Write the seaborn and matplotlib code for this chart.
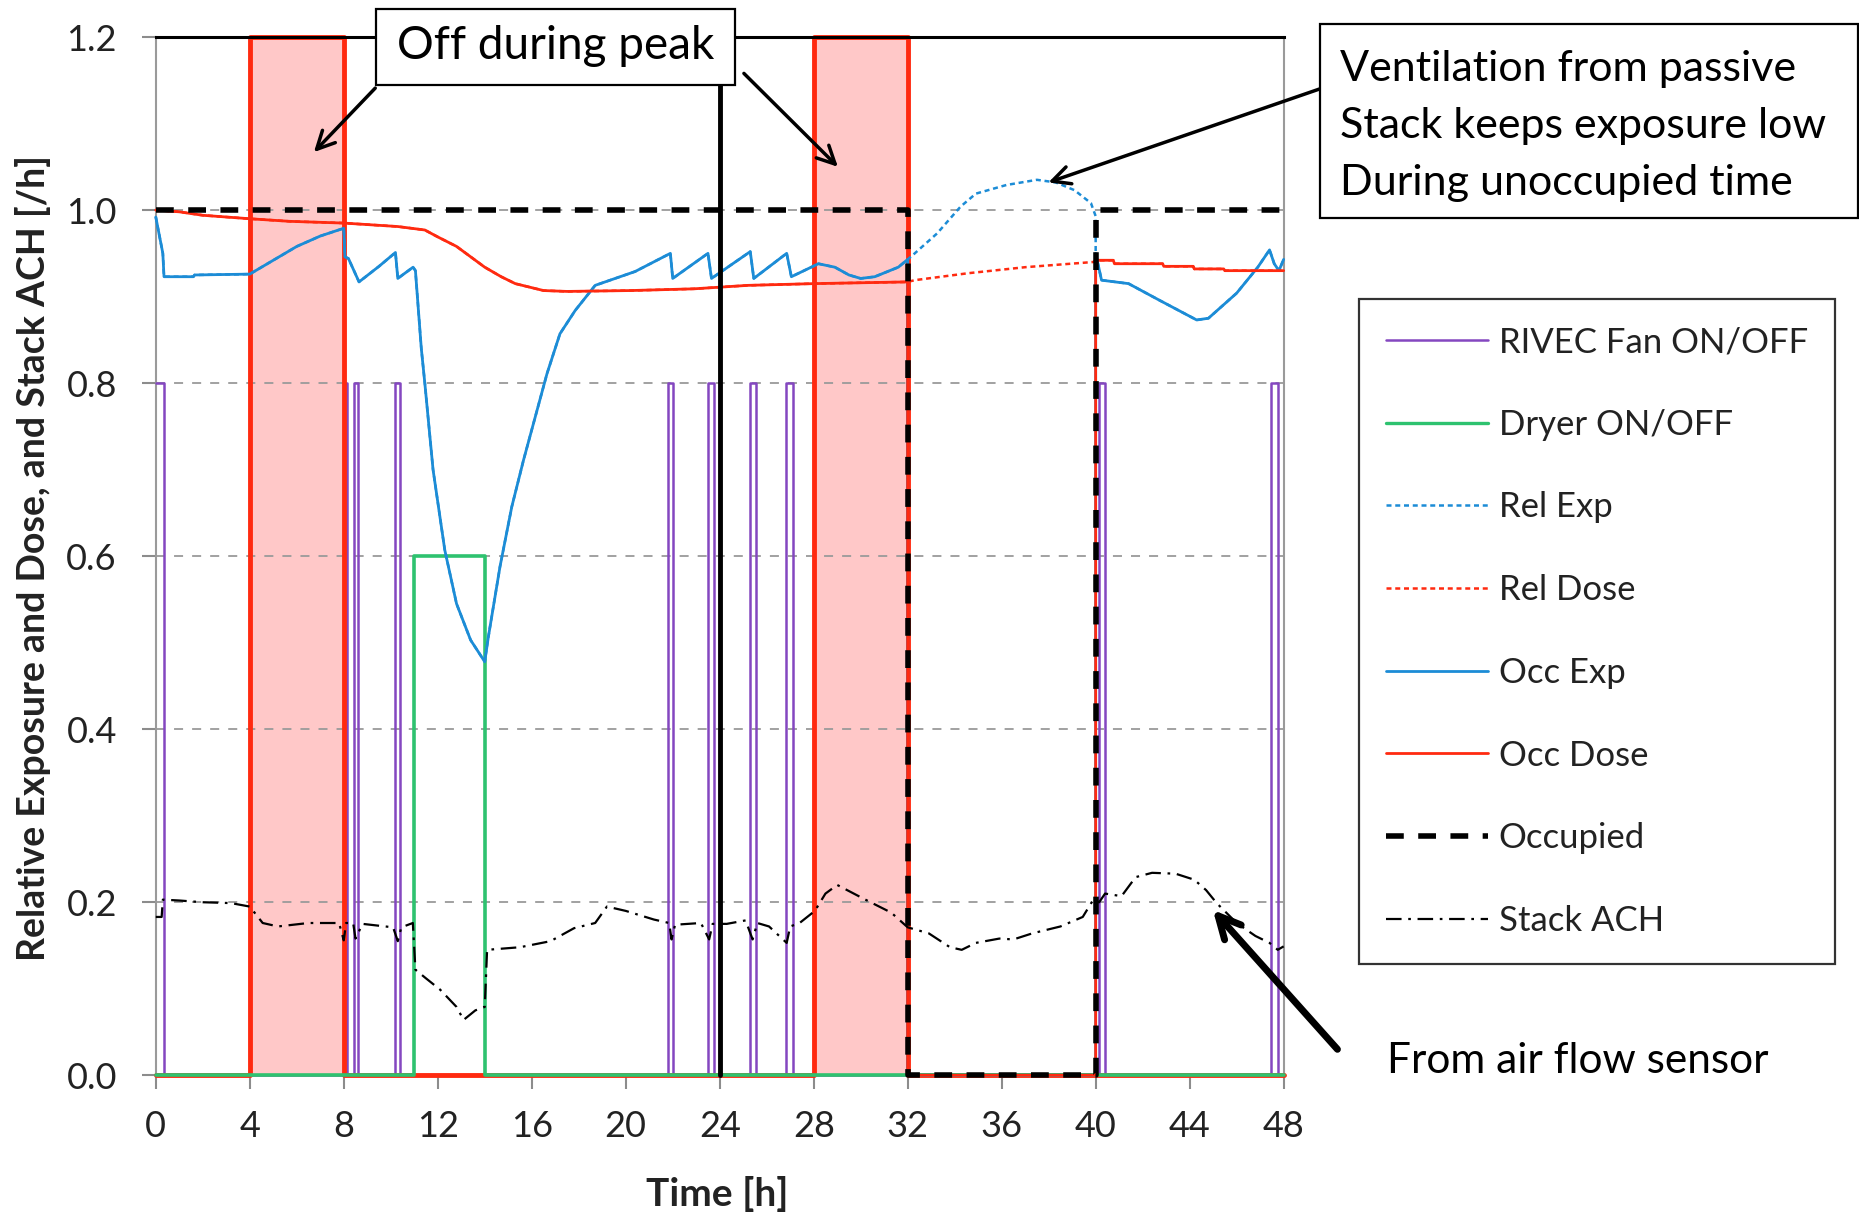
import numpy as np
import pandas as pd
import matplotlib
matplotlib.use("Agg")
import matplotlib.pyplot as plt
from matplotlib.lines import Line2D
from matplotlib.patches import Rectangle
import seaborn as sns

# ---------------- data ----------------
hours_ticks = list(range(0, 49, 4))
y_ticks = [0.0, 0.2, 0.4, 0.6, 0.8, 1.0, 1.2]

# RIVEC fan on-intervals (value 0.8 when on)
fan_on_start = [0.0, 8.0, 8.45, 10.2, 21.8, 23.5, 25.3, 26.8, 40.15, 47.45]
fan_on_end = [0.35, 8.15, 8.6, 10.4, 22.0, 23.75, 25.55, 27.1, 40.4, 47.75]
fan_on_level = 0.8

# Dryer on-interval (value 0.6)
dryer_on_start = [11.0]
dryer_on_end = [14.0]
dryer_on_level = 0.6

# Peak periods (fan off)
peak_t = [0, 4, 4, 8, 8, 28, 28, 32, 32, 48]
peak_v = [0, 0, 1.2, 1.2, 0, 0, 1.2, 1.2, 0, 0]

# Day separator
day_t = [24, 24]
day_v = [0.0, 1.2]

# Occupied
occ_t = [0, 32, 32, 40, 40, 48]
occ_v = [1.0, 1.0, 0.0, 0.0, 1.0, 1.0]

# Occ Exp
occ_exp_t = [0, 0.3, 0.35, 1.6, 1.65, 4.0, 5.0, 6.0, 7.0, 8.0, 8.05, 8.2, 8.65, 9.5,
             10.2, 10.3, 10.95, 11.05, 11.3, 11.45, 11.8, 12.3, 12.8, 13.4, 14.0,
             14.15, 14.65, 15.15, 15.65, 16.15, 16.65, 17.2, 17.85, 18.7, 20.4,
             21.9, 22.0, 23.5, 23.65, 25.3, 25.45, 26.85, 27.05, 28.2, 28.9, 29.5,
             30.0, 30.6, 31.6, 32.0, 32.0, 40.0, 40.0, 40.25, 41.4, 42.7, 44.3,
             44.8, 46.0, 46.9, 47.4, 47.6, 47.8, 48.0]
occ_exp_v = [0.992, 0.95, 0.923, 0.923, 0.925, 0.926, 0.942, 0.958, 0.970, 0.979,
             0.946, 0.944, 0.917, 0.935, 0.951, 0.921, 0.934, 0.93, 0.84, 0.80,
             0.70, 0.607, 0.545, 0.503, 0.478, 0.506, 0.588, 0.657, 0.711, 0.761,
             0.811, 0.857, 0.884, 0.913, 0.929, 0.950, 0.921, 0.950, 0.921, 0.952,
             0.921, 0.950, 0.923, 0.938, 0.934, 0.925, 0.921, 0.923, 0.934, 0.943,
             0.0, 0.0, 0.95, 0.919, 0.915, 0.896, 0.873, 0.875, 0.904, 0.934,
             0.954, 0.938, 0.930, 0.943]

# Rel Exp during unoccupied time
rel_exp_unocc_t = [32.0, 32.3, 33.25, 34.25, 34.9, 36.2, 37.5, 38.3, 39.1, 39.8, 40.0]
rel_exp_unocc_v = [0.943, 0.95, 0.973, 1.004, 1.019, 1.029, 1.035, 1.032, 1.023, 1.008, 0.993]

# Occ Dose
occ_dose_t = [0, 1.0, 2.0, 3.0, 4.0, 5.7, 8.0, 10.3, 11.45, 12.0, 12.8, 13.4, 14.0,
              14.7, 15.3, 16.5, 17.5, 20.2, 22.9, 25.2, 28.0, 32.0, 32.0, 40.0, 40.0,
              40.75, 40.8, 42.85, 42.9, 44.15, 44.2, 45.45, 45.5, 48.0]
occ_dose_v = [1.0, 0.998, 0.994, 0.992, 0.990, 0.987, 0.985, 0.981, 0.977, 0.969,
              0.958, 0.946, 0.934, 0.923, 0.915, 0.907, 0.906, 0.907, 0.909, 0.913,
              0.915, 0.917, 0.0, 0.0, 0.942, 0.942, 0.938, 0.938, 0.935, 0.935,
              0.932, 0.932, 0.930, 0.930]

# Rel Dose during unoccupied time
rel_dose_unocc_t = [32.0, 32.3, 34.56, 37.0, 39.9, 40.0]
rel_dose_unocc_v = [0.917, 0.919, 0.927, 0.934, 0.940, 0.942]

# Stack ACH
stack_t = [0, 0.25, 0.3, 1.0, 2.0, 3.2, 4.0, 4.55, 5.2, 6.5, 7.8, 8.0, 8.1, 8.4, 8.5,
           8.8, 10.1, 10.3, 10.45, 10.94, 11.05, 11.5, 12.1, 12.8, 13.1, 13.6, 14.0,
           14.1, 15.5, 16.8, 17.8, 18.7, 19.2, 20.0, 21.2, 21.85, 21.95, 22.1, 23.2,
           23.55, 23.7, 24.3, 25.1, 25.4, 25.6, 26.1, 26.85, 27.0, 27.4, 28.05, 28.5,
           29.0, 30.2, 31.3, 32.0, 32.9, 33.8, 34.3, 34.9, 35.9, 36.5, 37.3, 38.5,
           39.45, 39.9, 40.15, 40.4, 41.1, 41.7, 42.4, 43.4, 44.2, 44.7, 45.15, 46.0,
           46.8, 47.4, 47.75, 48]
stack_v = [0.183, 0.183, 0.203, 0.202, 0.200, 0.199, 0.195, 0.176, 0.172, 0.176,
           0.176, 0.156, 0.176, 0.176, 0.158, 0.175, 0.171, 0.155, 0.171, 0.176,
           0.122, 0.112, 0.099, 0.079, 0.064, 0.075, 0.079, 0.145, 0.148, 0.155,
           0.170, 0.176, 0.195, 0.19, 0.18, 0.176, 0.157, 0.174, 0.176, 0.157,
           0.175, 0.175, 0.179, 0.157, 0.176, 0.172, 0.153, 0.172, 0.176, 0.19,
           0.210, 0.220, 0.203, 0.188, 0.171, 0.164, 0.148, 0.145, 0.153, 0.158,
           0.157, 0.164, 0.172, 0.183, 0.203, 0.200, 0.210, 0.207, 0.229, 0.234,
           0.233, 0.226, 0.214, 0.199, 0.176, 0.161, 0.153, 0.145, 0.149]

legend_labels = ["RIVEC Fan ON/OFF", "Dryer ON/OFF", "Rel Exp", "Rel Dose",
                 "Occ Exp", "Occ Dose", "Occupied", "Stack ACH"]


def pulses(starts, ends, level, t0=0.0, t1=48.0):
    t, v = [t0], [level if starts[0] <= t0 else 0.0]
    for s, e in zip(starts, ends):
        if s > t0:
            t += [s, s]
            v += [0.0, level]
        t += [e, e]
        v += [level, 0.0]
    t.append(t1)
    v.append(0.0)
    return t, v


fan_t, fan_v = pulses(fan_on_start, fan_on_end, fan_on_level)
dryer_t, dryer_v = pulses(dryer_on_start, dryer_on_end, dryer_on_level)

# Rel Exp / Rel Dose: equal to occupied values when occupied
oe = pd.DataFrame({"t": occ_exp_t, "v": occ_exp_v})
rel_exp = pd.concat([oe[oe.t < 32], pd.DataFrame({"t": rel_exp_unocc_t, "v": rel_exp_unocc_v}),
                     oe[(oe.t >= 40) & (oe.v > 0)]])
od = pd.DataFrame({"t": occ_dose_t, "v": occ_dose_v})
rel_dose = pd.concat([od[od.t < 32], pd.DataFrame({"t": rel_dose_unocc_t, "v": rel_dose_unocc_v}),
                      od[(od.t >= 40) & (od.v > 0)]])

# ---------------- style ----------------
sns.set_theme(style="white")
plt.rcParams["font.family"] = ["Lato", "DejaVu Sans"]

C_FAN = "#8447C0"
C_DRY = "#2EC26F"
C_BLUE = "#1C8CD6"
C_RED = "#FF2A10"
C_PINK = "#FFC8C8"

fig = plt.figure(figsize=(18.59, 12.15), dpi=100)
ax = fig.add_axes([0.0838, 0.1150, 0.6067, 0.8545])

common = dict(ax=ax, estimator=None, sort=False, legend=False)

ax.fill_between(peak_t, peak_v, 0, color=C_PINK, lw=0, zorder=0.5)
sns.lineplot(x=fan_t, y=fan_v, color=C_FAN, lw=1.8, zorder=0.9, **common)
sns.lineplot(x=peak_t, y=peak_v, color=C_RED, lw=3.5, zorder=1, **common)
sns.lineplot(x=dryer_t, y=dryer_v, color=C_DRY, lw=2.6, zorder=2, **common)
sns.lineplot(x=rel_exp.t.values, y=rel_exp.v.values, color=C_BLUE, lw=1.8,
             linestyle=(0, (2, 1.5)), zorder=3, **common)
sns.lineplot(x=rel_dose.t.values, y=rel_dose.v.values, color=C_RED, lw=1.8,
             linestyle=(0, (2, 1.5)), zorder=3, **common)
sns.lineplot(x=occ_exp_t, y=occ_exp_v, color=C_BLUE, lw=2.0, zorder=4, **common)
sns.lineplot(x=occ_dose_t, y=occ_dose_v, color=C_RED, lw=2.0, zorder=5, **common)
sns.lineplot(x=occ_t, y=occ_v, color="black", lw=4, linestyle=(0, (3.2, 2.6)),
             zorder=7, **common)
sns.lineplot(x=stack_t, y=stack_v, color="black", lw=1.6,
             linestyle=(0, (7, 3, 1.2, 3)), zorder=8, **common)
sns.lineplot(x=day_t, y=day_v, color="black", lw=3.5, zorder=9, **common)

for ln in ax.get_lines():
    ln.set_clip_on(False)

ax.set_xlim(0, 48)
ax.set_ylim(0, 1.2)
ax.set_xticks(hours_ticks)
ax.set_yticks(y_ticks)
ax.set_yticklabels([f"{v:.1f}" for v in y_ticks])
ax.set_xlabel("")
ax.set_ylabel("")
ax.tick_params(axis="both", which="both", direction="out", length=10, width=1.5,
               color="#8c8c8c", labelsize=26, labelcolor="#222222")
ax.tick_params(axis="x", pad=15, bottom=True)
ax.tick_params(axis="y", pad=18, left=True)
ax.yaxis.grid(True, linestyle=(0, (5, 5)), color="#9a9a9a", lw=1.3)
ax.xaxis.grid(False)
ax.set_axisbelow(True)
for s in ["left", "right", "bottom"]:
    ax.spines[s].set_color("#9a9a9a")
    ax.spines[s].set_linewidth(1.5)
    ax.spines[s].set_zorder(0.8)
ax.spines["top"].set_color("black")
ax.spines["top"].set_linewidth(2.2)
ax.spines["top"].set_zorder(10)

fig.text(0.386, 0.0173, "Time [h]", ha="center", va="center", fontsize=28,
         fontweight="bold", color="#222222")
fig.text(0.0178, 0.541, "Relative Exposure and Dose, and Stack ACH [/h]", ha="center",
         va="center", rotation=90, fontsize=27, fontweight="bold", color="#222222")

# legend
handles = [
    Line2D([], [], color=C_FAN, lw=1.8),
    Line2D([], [], color=C_DRY, lw=2.4),
    Line2D([], [], color=C_BLUE, lw=1.8, linestyle=(0, (2, 1.5))),
    Line2D([], [], color=C_RED, lw=1.8, linestyle=(0, (2, 1.5))),
    Line2D([], [], color=C_BLUE, lw=2.0),
    Line2D([], [], color=C_RED, lw=2.0),
    Line2D([], [], color="black", lw=4, linestyle=(0, (3.2, 2.6))),
    Line2D([], [], color="black", lw=1.6, linestyle=(0, (7, 3, 1.2, 3))),
]
leg = fig.legend(handles, legend_labels, loc="upper left", bbox_to_anchor=(0.7310, 0.7539),
                 frameon=True, fancybox=False, fontsize=25, handlelength=2.94,
                 handletextpad=0.3, labelspacing=1.46, borderpad=0.78, borderaxespad=0)
leg.get_frame().set_edgecolor("black")
leg.get_frame().set_linewidth(1.6)
for t in leg.get_texts():
    t.set_color("#222222")

# annotation boxes
fig.patches.append(Rectangle((375.8 / 1859, 0.9297), (735.1 - 375.8) / 1859, 0.0625,
                             transform=fig.transFigure, facecolor="white",
                             edgecolor="black", lw=1.6, zorder=20))
fig.text(0.2988, 0.962, "Off during peak", ha="center", va="center", fontsize=33,
         color="black", zorder=21)
fig.patches.append(Rectangle((0.7098, 0.8205), 0.9995 - 0.7098, 0.16,
                             transform=fig.transFigure, facecolor="white",
                             edgecolor="black", lw=1.6, zorder=20))
for yy, txt in zip([0.9434, 0.8965, 0.8497],
                   ["Ventilation from passive", "Stack keeps exposure low",
                    "During unoccupied time"]):
    fig.text(0.7207, yy, txt, ha="left", va="center", fontsize=31, color="black", zorder=21)
fig.text(0.7462, 0.1267, "From air flow sensor", ha="left", va="center", fontsize=30.5,
         color="black")

arrow = dict(arrowstyle="->", lw=2.5, color="black", mutation_scale=32,
             shrinkA=0, shrinkB=0)
ax.annotate("", xy=(6.73, 1.067), xytext=(9.34, 1.141), arrowprops=arrow,
            annotation_clip=False, zorder=22)
ax.annotate("", xy=(29.03, 1.050), xytext=(25.03, 1.158), arrowprops=arrow,
            annotation_clip=False, zorder=22)
ax.annotate("", xy=(37.99, 1.032), xytext=(49.53, 1.140), arrowprops=arrow,
            annotation_clip=False, zorder=22)
ax.annotate("", xy=(44.99, 0.191), xytext=(50.29, 0.030),
            arrowprops=dict(arrowstyle="->", lw=5, color="black", mutation_scale=40,
                            shrinkA=0, shrinkB=0),
            annotation_clip=False, zorder=22)

fig.savefig("out.png", dpi=100)
